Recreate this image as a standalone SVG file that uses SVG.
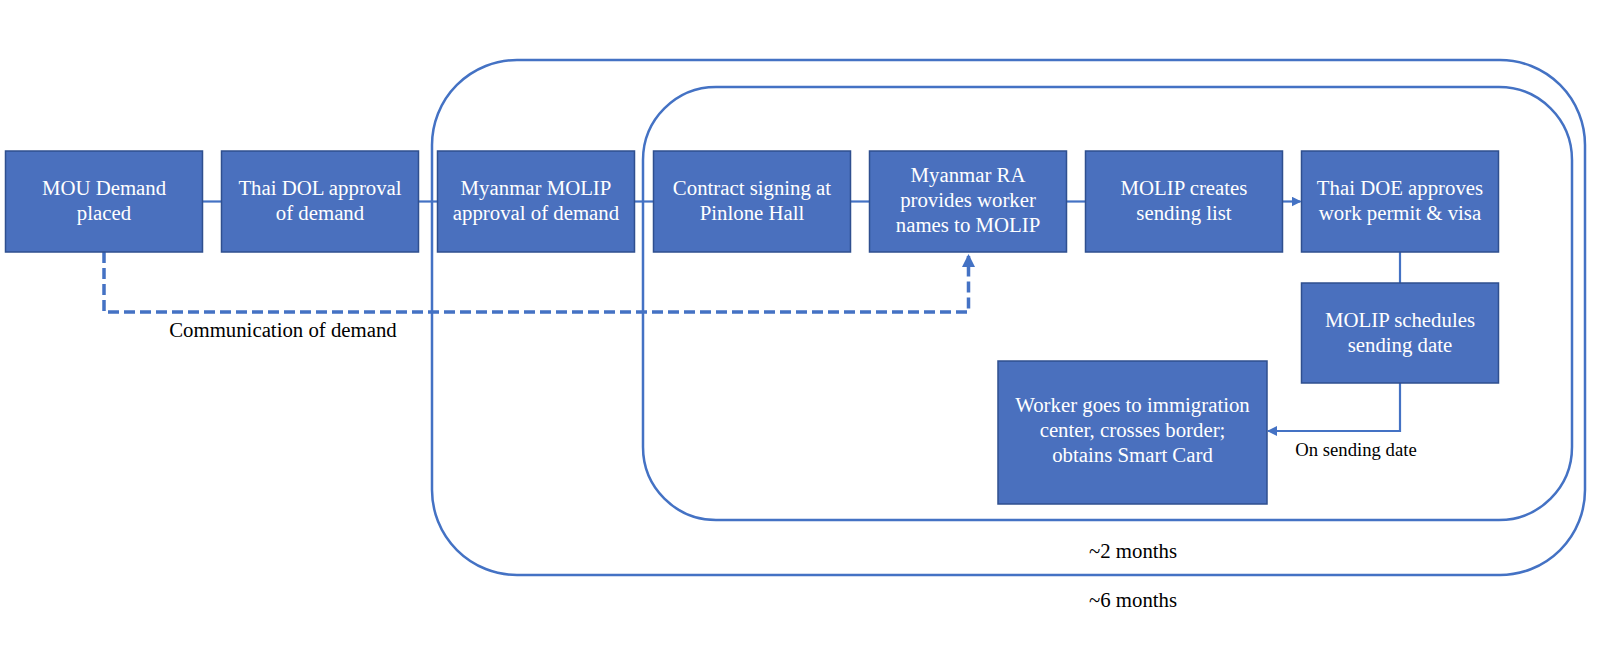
<svg xmlns="http://www.w3.org/2000/svg" width="1600" height="659" viewBox="0 0 1600 659">
<defs>
<style>
.frame{fill:none;stroke:#4472C4;stroke-width:2.5}
.box{fill:#4A70BE;stroke:#2F4F8F;stroke-width:1.5}
.bt{font-family:"Liberation Serif","Times New Roman",serif;font-size:20.8px;fill:#ffffff;text-anchor:middle}
.lbl{font-family:"Liberation Serif","Times New Roman",serif;font-size:20.8px;fill:#000000;text-anchor:middle}
.ln{fill:none;stroke:#4472C4;stroke-width:2.2}
.dash{fill:none;stroke:#4472C4;stroke-width:3.5;stroke-dasharray:11 5}
</style>
<marker id="arr" markerWidth="10" markerHeight="10" refX="9" refY="5" orient="auto" markerUnits="userSpaceOnUse">
<path d="M0,0 L10,5 L0,10 Z" fill="#4472C4"/>
</marker>
<marker id="arrBig" markerWidth="13" markerHeight="13" refX="11" refY="6.5" orient="auto" markerUnits="userSpaceOnUse">
<path d="M0,0 L13,6.5 L0,13 Z" fill="#4472C4"/>
</marker>
</defs>
<rect width="1600" height="659" fill="#ffffff"/>

<g id="frames">
<rect id="frame-6months" class="frame" x="432" y="60" width="1153" height="515" rx="85" ry="85"/>
<rect id="frame-2months" class="frame" x="643" y="87" width="929" height="433" rx="73" ry="73"/>
</g>

<g id="connectors">
<line class="ln" x1="202.5" y1="201.5" x2="221.5" y2="201.5"/>
<line class="ln" x1="418.5" y1="201.5" x2="437.5" y2="201.5"/>
<line class="ln" x1="634.5" y1="201.5" x2="653.5" y2="201.5"/>
<line class="ln" x1="850.5" y1="201.5" x2="869.5" y2="201.5"/>
<line class="ln" x1="1066.5" y1="201.5" x2="1085.5" y2="201.5"/>
<line class="ln" x1="1282.5" y1="201.5" x2="1300.5" y2="201.5" marker-end="url(#arr)"/>
<line class="ln" x1="1400" y1="252" x2="1400" y2="283"/>
<path class="ln" d="M1400,383 V431 H1268" marker-end="url(#arr)"/>
<path class="dash" d="M104,252 V312 H968.5 V256" marker-end="url(#arrBig)"/>
</g>

<g id="n1"><rect class="box" x="5.5" y="151" width="197" height="101"/>
<text class="bt" x="104" y="195">MOU Demand</text><text class="bt" x="104" y="220">placed</text></g>

<g id="n2"><rect class="box" x="221.5" y="151" width="197" height="101"/>
<text class="bt" x="320" y="195">Thai DOL approval</text><text class="bt" x="320" y="220">of demand</text></g>

<g id="n3"><rect class="box" x="437.5" y="151" width="197" height="101"/>
<text class="bt" x="536" y="195">Myanmar MOLIP</text><text class="bt" x="536" y="220">approval of demand</text></g>

<g id="n4"><rect class="box" x="653.5" y="151" width="197" height="101"/>
<text class="bt" x="752" y="195">Contract signing at</text><text class="bt" x="752" y="220">Pinlone Hall</text></g>

<g id="n5"><rect class="box" x="869.5" y="151" width="197" height="101"/>
<text class="bt" x="968" y="182">Myanmar RA</text><text class="bt" x="968" y="207">provides worker</text><text class="bt" x="968" y="232">names to MOLIP</text></g>

<g id="n6"><rect class="box" x="1085.5" y="151" width="197" height="101"/>
<text class="bt" x="1184" y="195">MOLIP creates</text><text class="bt" x="1184" y="220">sending list</text></g>

<g id="n7"><rect class="box" x="1301.5" y="151" width="197" height="101"/>
<text class="bt" x="1400" y="195">Thai DOE approves</text><text class="bt" x="1400" y="220">work permit &amp; visa</text></g>

<g id="n8"><rect class="box" x="1301.5" y="283" width="197" height="100"/>
<text class="bt" x="1400" y="327">MOLIP schedules</text><text class="bt" x="1400" y="352">sending date</text></g>

<g id="n9"><rect class="box" x="998" y="361" width="269" height="143"/>
<text class="bt" x="1132.5" y="412">Worker goes to immigration</text><text class="bt" x="1132.5" y="437">center, crosses border;</text><text class="bt" x="1132.5" y="462">obtains Smart Card</text></g>

<g id="labels">
<text class="lbl" x="283" y="337">Communication of demand</text>
<text class="lbl" x="1356" y="456" style="font-size:18.7px">On sending date</text>
<text class="lbl" x="1133" y="558">~2 months</text>
<text class="lbl" x="1133" y="607">~6 months</text>
</g>
</svg>
